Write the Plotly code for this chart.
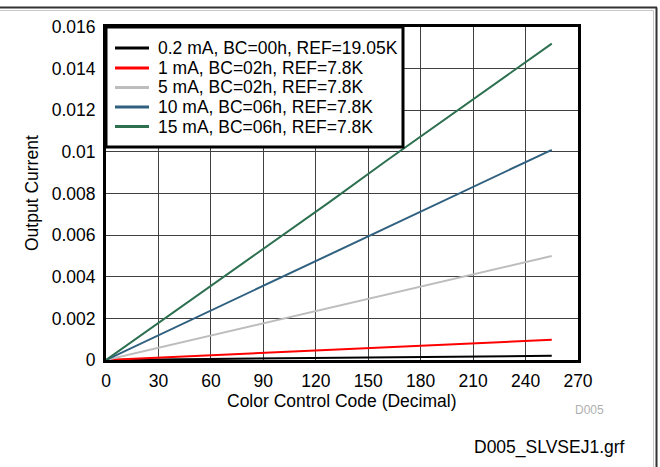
import plotly.graph_objects as go

codes = [0, 32, 64, 96, 128, 160, 192, 224, 255]
i_02mA = [0, 0.000025, 0.00005, 0.000075, 0.0001, 0.000125, 0.00015, 0.000175, 0.0002]
i_1mA = [0, 0.00012, 0.00024, 0.00037, 0.00049, 0.00061, 0.00073, 0.00085, 0.00097]
i_5mA = [0, 0.00063, 0.00126, 0.00188, 0.00251, 0.00314, 0.00377, 0.0044, 0.005]
i_10mA = [0, 0.00127, 0.00253, 0.0038, 0.00507, 0.00634, 0.0076, 0.00887, 0.0101]
i_15mA = [0, 0.0019, 0.0038, 0.0057, 0.0076, 0.00955, 0.01145, 0.01335, 0.0152]

series_names = [
    "0.2 mA, BC=00h, REF=19.05K",
    "1 mA, BC=02h, REF=7.8K",
    "5 mA, BC=02h, REF=7.8K",
    "10 mA, BC=06h, REF=7.8K",
    "15 mA, BC=06h, REF=7.8K",
]
series_values = [i_02mA, i_1mA, i_5mA, i_10mA, i_15mA]
series_colors = ["#000000", "#ff0000", "#bdbdbd", "#30607f", "#2d7050"]

x_ticks = [0, 30, 60, 90, 120, 150, 180, 210, 240, 270]
y_ticks = [0, 0.002, 0.004, 0.006, 0.008, 0.01, 0.012, 0.014, 0.016]
y_tick_text = ["0", "0.002", "0.004", "0.006", "0.008", "0.01", "0.012", "0.014", "0.016"]

FONT = "Liberation Sans, Arial, sans-serif"
FS = 17.5

fig = go.Figure()
for name, vals, col in zip(series_names, series_values, series_colors):
    fig.add_trace(go.Scatter(x=codes, y=vals, mode="lines", name=name,
                             line=dict(color=col, width=2), showlegend=False))

W, H = 660, 467
L, R, T, B = 106, 578, 27, 360
pw, ph = R - L, B - T

def px(x):
    return (x - L) / pw

def py(y):
    return (B - y) / ph

annotations = [
    dict(text="Output Current", x=px(32), y=py(193), xref="paper", yref="paper",
         textangle=-90, showarrow=False, xanchor="center", yanchor="middle",
         font=dict(size=FS)),
    dict(text="Color Control Code (Decimal)", x=0.5, y=py(401), xref="paper", yref="paper",
         showarrow=False, xanchor="center", yanchor="middle", font=dict(size=FS)),
    dict(text="D005", x=px(589), y=py(410), xref="paper", yref="paper",
         showarrow=False, xanchor="center", yanchor="middle",
         font=dict(size=12, color="#b0b0b0")),
    dict(text="D005_SLVSEJ1.grf", x=px(627), y=py(447), xref="paper", yref="paper",
         showarrow=False, xanchor="right", yanchor="middle", font=dict(size=FS)),
]

shapes = [
    dict(type="line", xref="paper", yref="paper", x0=px(0), x1=px(657), y0=py(7.5), y1=py(7.5),
         line=dict(color="#333333", width=2), layer="above"),
    dict(type="line", xref="paper", yref="paper", x0=px(0), x1=px(654), y0=py(10.5), y1=py(10.5),
         line=dict(color="#c8c8c8", width=1), layer="above"),
    dict(type="line", xref="paper", yref="paper", x0=px(656.5), x1=px(656.5), y0=py(7.5), y1=py(467),
         line=dict(color="#333333", width=2), layer="above"),
    dict(type="line", xref="paper", yref="paper", x0=px(653.5), x1=px(653.5), y0=py(10.5), y1=py(467),
         line=dict(color="#c8c8c8", width=1), layer="above"),
    # legend box
    dict(type="rect", xref="paper", yref="paper", x0=px(106), x1=px(403), y0=py(147), y1=py(27),
         fillcolor="white", line=dict(color="#000000", width=3), layer="above"),
]

row_y = [48, 68, 87.5, 107, 126.5]
for name, col, ry in zip(series_names, series_colors, row_y):
    shapes.append(dict(type="line", xref="paper", yref="paper", x0=px(115), x1=px(149),
                       y0=py(ry), y1=py(ry), line=dict(color=col, width=3), layer="above"))
    annotations.append(dict(text=name, x=px(156), y=py(ry), xref="paper", yref="paper",
                            showarrow=False, xanchor="left", yanchor="middle",
                            font=dict(size=FS, color="#000000")))

fig.update_layout(
    width=W, height=H,
    margin=dict(l=L, r=W - R, t=T, b=H - B),
    paper_bgcolor="white", plot_bgcolor="white",
    font=dict(family=FONT, size=FS, color="#000000"),
    showlegend=False,
    xaxis=dict(range=[0, 270], tickvals=x_ticks, ticks="", showgrid=True,
               gridcolor="#404040", gridwidth=1, zeroline=False,
               showline=True, linecolor="#000000", linewidth=3, mirror=True,
               tickfont=dict(size=FS), ticklabelstandoff=3),
    yaxis=dict(range=[0, 0.016], tickvals=y_ticks, ticktext=y_tick_text, ticks="",
               showgrid=True, gridcolor="#404040", gridwidth=1, zeroline=False,
               showline=True, linecolor="#000000", linewidth=3, mirror=True,
               tickfont=dict(size=FS), ticklabelstandoff=4),
    annotations=annotations,
    shapes=shapes,
)

fig.write_html("out.html", config={"displayModeBar": False},
               post_script="document.body.style.margin='0';document.body.style.padding='0';")
